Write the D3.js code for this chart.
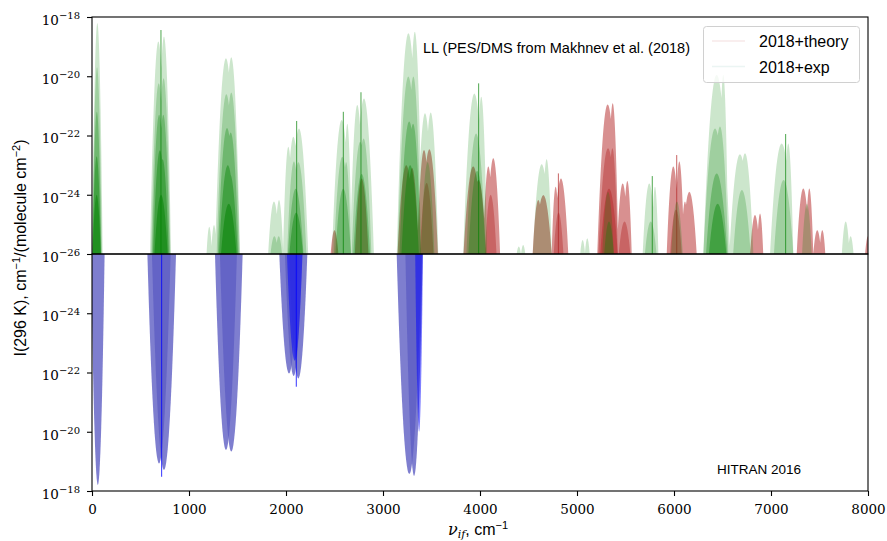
<!DOCTYPE html>
<html>
<head>
<meta charset="utf-8">
<script src="https://cdn.jsdelivr.net/npm/d3@7"></script>
<style>
  body { margin: 0; background: #fff; }
</style>
</head>
<body>
<script>
// ---- data ----
// lobes: [wavenumber centre, half width at 1e-26, log10 peak intensity, tier]
let xTicks = [0, 1000, 2000, 3000, 4000, 5000, 6000, 7000, 8000];
let topTickExps = [-18, -20, -22, -24, -26];
let bottomTickExps = [-24, -22, -20, -18];
let legendLabels = ["2018+theory", "2018+exp"];

let theoryLobes = [
  [2500, 40, -25.2, 0],
  [2780, 70, -23.45, 0],
  [3240, 90, -23.0, 0], [3300, 70, -23.1, 0],
  [3423, 72, -22.49, 0], [3478, 88, -22.46, 0],
  [3450, 70, -23.6, 1],
  [3930, 100, -23.05, 0], [3985, 80, -23.5, 0],
  [4086, 56, -23.05, 0], [4137, 70, -22.77, 0],
  [4110, 60, -24.0, 1],
  [4601, 58, -24.18, 0], [4653, 86, -24.01, 0],
  [4780, 41, -23.73, 0], [4835, 75, -23.45, 0],
  [4810, 50, -24.6, 1],
  [5316, 107, -20.95, 0], [5368, 58, -20.91, 0],
  [5320, 100, -22.43, 1], [5365, 55, -22.43, 1],
  [5330, 90, -23.8, 2],
  [5471, 62, -23.62, 0], [5519, 45, -23.54, 0],
  [5490, 60, -24.9, 1],
  [5993, 68, -23.05, 0], [6055, 50, -22.88, 0],
  [6113, 40, -24.23, 0], [6158, 76, -23.9, 0],
  [6020, 60, -24.5, 1],
  [6835, 50, -24.68, 0], [6887, 33, -24.63, 0],
  [7333, 68, -23.79, 0], [7395, 41, -23.79, 0],
  [7477, 41, -25.2, 0], [7529, 31, -25.2, 0],
  [8000, 30, -25.4, 0]
];

let expLobes = [
  [55, 55, -18.2, 0], [52, 50, -19.7, 1], [50, 46, -21.2, 2], [48, 44, -22.7, 3], [48, 42, -24.0, 4],
  [684, 86, -18.83, 0], [742, 72, -18.66, 0],
  [688, 78, -20.24, 1], [738, 70, -20.07, 1],
  [692, 72, -21.3, 2], [735, 66, -21.3, 2],
  [700, 70, -22.5, 3], [728, 62, -22.8, 3],
  [712, 68, -24.0, 4],
  [1381, 112, -19.39, 0], [1436, 90, -19.36, 0],
  [1385, 100, -20.61, 1], [1436, 86, -20.55, 1],
  [1392, 94, -21.75, 2], [1430, 82, -21.9, 2],
  [1400, 90, -23.0, 3], [1422, 80, -23.3, 3],
  [1410, 80, -24.3, 4],
  [1209, 28, -25.08, 0], [1258, 30, -25.02, 0],
  [1876, 60, -24.23, 0], [1928, 44, -24.18, 0],
  [1880, 40, -25.4, 1], [1925, 34, -25.4, 1],
  [2024, 55, -22.38, 0], [2076, 80, -22.04, 0], [2134, 95, -21.76, 0],
  [2082, 70, -22.88, 1], [2128, 82, -22.9, 1],
  [2100, 80, -23.8, 2], [2105, 70, -24.6, 3],
  [2574, 100, -21.48, 0], [2632, 45, -21.6, 0],
  [2580, 86, -22.72, 1], [2620, 50, -22.9, 1],
  [2590, 80, -23.8, 2],
  [2735, 75, -20.97, 0], [2804, 102, -20.75, 0],
  [2765, 88, -22.21, 1], [2800, 80, -22.1, 1],
  [2780, 86, -23.3, 2],
  [3262, 120, -18.55, 0], [3328, 75, -18.5, 0],
  [3261, 110, -20.01, 1], [3313, 80, -20.01, 1],
  [3270, 100, -21.53, 2], [3310, 80, -21.6, 2],
  [3280, 90, -23.0, 3],
  [3433, 86, -21.25, 0], [3492, 78, -21.22, 0],
  [3460, 70, -22.9, 1],
  [3942, 115, -20.58, 0], [4013, 60, -20.69, 0],
  [3960, 100, -21.93, 1],
  [3970, 90, -23.2, 2],
  [4400, 22, -25.75, 0], [4445, 22, -25.7, 0],
  [4636, 92, -22.97, 0], [4687, 52, -22.8, 0],
  [5058, 25, -25.53, 0], [5106, 25, -25.47, 0],
  [5320, 60, -23.9, 1], [5330, 50, -24.9, 2],
  [5745, 68, -23.62, 0], [5804, 35, -23.73, 0],
  [5760, 60, -24.9, 1],
  [6030, 60, -24.23, 1],
  [6440, 138, -19.95, 0], [6508, 52, -19.95, 0],
  [6423, 120, -21.76, 1], [6474, 86, -21.7, 1],
  [6440, 110, -23.28, 2], [6450, 90, -24.3, 3],
  [6680, 110, -22.63, 0], [6732, 86, -22.6, 0],
  [6700, 90, -23.84, 1],
  [7110, 120, -22.27, 0], [7178, 52, -22.27, 0],
  [7130, 100, -23.5, 1],
  [7370, 50, -24.3, 1],
  [7770, 40, -24.9, 0], [7821, 30, -25.4, 0]
];

// [centre, log10 peak]
let expSpikes = [[711, -18.44], [2110, -21.51], [2591, -21.2], [2773, -20.54], [3986, -20.24], [5776, -23.37], [7151, -21.95]];
let theorySpikes = [[4808, -23.28], [6028, -22.66]];

// HITRAN 2016, drawn downward
let hitranLobes = [
  [60, 70, -18.2],
  [691, 120, -18.93], [742, 124, -18.71],
  [1381, 113, -19.38], [1436, 117, -19.33],
  [2031, 100, -21.97], [2079, 90, -21.88], [2127, 93, -21.8],
  [3271, 130, -18.57], [3320, 89, -18.51]
];
let hitranDense = [[2090, 80, -22.4], [3372, 40, -20.0]];
let hitranSpikes = [[718, -18.48], [2106, -21.52]];

// ---- layout ----
let width = 887;
let height = 541;
let pLeft = 92, pRight = 868, pTop = 17, pMid = 254, pBottom = 491;

let svg = d3
  .select("body")
  .append("svg")
  .attr("width", width)
  .attr("height", height);

let x = d3.scaleLinear().domain([0, 8000]).range([pLeft, pRight]);
let yTop = d3.scaleLog().domain([1e-26, 1e-18]).range([pMid, pTop]);
let yBot = d3.scaleLog().domain([1e-26, 1e-18]).range([pMid, pBottom]);

let serif = "DejaVu Serif";
let sans = "Liberation Sans";

let defs = svg.append("defs");
defs.append("clipPath").attr("id", "clipTop")
  .append("rect").attr("x", pLeft).attr("y", pTop).attr("width", pRight - pLeft).attr("height", pMid - pTop);
defs.append("clipPath").attr("id", "clipBot")
  .append("rect").attr("x", pLeft).attr("y", pMid).attr("width", pRight - pLeft).attr("height", pBottom - pMid);

// parabolic arch (in log space) from base 1e-26 up to the peak
let lobePath = (d, y) => {
  let yb = y(1e-26);
  let yp = y(Math.pow(10, d[2]));
  let ctrl = 2 * yp - yb;
  return `M${x(d[0] - d[1])},${yb}Q${x(d[0])},${ctrl} ${x(d[0] + d[1])},${yb}Z`;
};

let drawTiers = (g, lobes, y, color, opacities) => {
  opacities.forEach((op, t) => {
    let sel = lobes.filter((d) => d[3] === t);
    if (!sel.length) return;
    g.append("path")
      .attr("d", sel.map((d) => lobePath(d, y)).join(""))
      .attr("fill", color)
      .attr("fill-opacity", op);
  });
};

let drawSpikes = (g, spikes, y, color, op) => {
  g.selectAll(null)
    .data(spikes)
    .enter()
    .append("line")
    .attr("x1", (d) => x(d[0]))
    .attr("x2", (d) => x(d[0]))
    .attr("y1", y(1e-26))
    .attr("y2", (d) => y(Math.pow(10, d[1])))
    .attr("stroke", color)
    .attr("stroke-opacity", op)
    .attr("stroke-width", 1);
};

// top panel: theory then exp
let gTop = svg.append("g").attr("clip-path", "url(#clipTop)");
drawTiers(gTop, theoryLobes, yTop, "#b22222", [0.5, 0.4, 0.45]);
drawSpikes(gTop, theorySpikes, yTop, "#b22222", 0.7);
drawTiers(gTop, expLobes, yTop, "#008000", [0.2, 0.22, 0.3, 0.4, 0.5]);
drawSpikes(gTop, expSpikes, yTop, "#008000", 0.7);

// bottom panel: HITRAN
let gBot = svg.append("g").attr("clip-path", "url(#clipBot)");
gBot.selectAll(null)
  .data(hitranLobes)
  .enter()
  .append("path")
  .attr("d", (d) => lobePath(d, yBot))
  .attr("fill", "#5e5ec3")
  .attr("fill-opacity", 0.8);
gBot.selectAll(null)
  .data(hitranDense)
  .enter()
  .append("path")
  .attr("d", (d) => lobePath(d, yBot))
  .attr("fill", "#0000ff")
  .attr("fill-opacity", 0.5);
drawSpikes(gBot, hitranSpikes, yBot, "#0000ff", 0.8);

// frames
[[pTop, pMid], [pMid, pBottom]].forEach(([a, b]) => {
  svg.append("rect")
    .attr("x", pLeft).attr("y", a)
    .attr("width", pRight - pLeft).attr("height", b - a)
    .attr("fill", "none")
    .attr("stroke", "#000")
    .attr("stroke-width", 1.1);
});

// y axes with 10^n labels
let powLabel = (sel) => {
  sel.selectAll(".tick text").each(function (d) {
    let exp = Math.round(Math.log10(d));
    let t = d3.select(this);
    t.text("").attr("y", 3);
    t.append("tspan").text("10");
    t.append("tspan").attr("dy", -6).attr("font-size", 10).text("\u2212" + Math.abs(exp));
  });
};

let styleAxis = (sel) => {
  sel.select(".domain").remove();
  sel.selectAll(".tick line").attr("stroke", "#000").attr("stroke-width", 1.1);
  sel.selectAll(".tick text")
    .attr("font-family", serif)
    .attr("font-size", 13.5)
    .attr("fill", "#000");
};

let axTop = svg.append("g")
  .attr("transform", `translate(${pLeft},0)`)
  .call(d3.axisLeft(yTop).tickValues(topTickExps.map((e) => Math.pow(10, e))).tickSize(5).tickPadding(7));
styleAxis(axTop);
powLabel(axTop);

let axBot = svg.append("g")
  .attr("transform", `translate(${pLeft},0)`)
  .call(d3.axisLeft(yBot).tickValues(bottomTickExps.map((e) => Math.pow(10, e))).tickSize(5).tickPadding(7));
styleAxis(axBot);
powLabel(axBot);

let axX = svg.append("g")
  .attr("transform", `translate(0,${pBottom})`)
  .call(d3.axisBottom(x).tickValues(xTicks).tickFormat(d3.format("d")).tickSize(5).tickPadding(8));
styleAxis(axX);

// axis labels
let yLab = svg.append("text")
  .attr("transform", "translate(26,248) rotate(-90)")
  .attr("text-anchor", "middle")
  .attr("font-family", sans)
  .attr("font-size", 16)
  .attr("fill", "#000");
yLab.append("tspan").text("I(296 K), cm");
yLab.append("tspan").attr("dy", -6).attr("font-size", 11).text("\u22121");
yLab.append("tspan").attr("dy", 6).text("/(molecule cm");
yLab.append("tspan").attr("dy", -6).attr("font-size", 11).text("\u22122");
yLab.append("tspan").attr("dy", 6).text(")");

let xLab = svg.append("text")
  .attr("x", 478)
  .attr("y", 535)
  .attr("text-anchor", "middle")
  .attr("font-size", 16)
  .attr("fill", "#000");
xLab.append("tspan").attr("font-family", serif).attr("font-style", "italic").text("\u03bd");
xLab.append("tspan").attr("font-family", serif).attr("font-style", "italic").attr("font-size", 11).attr("dy", 3).text("if");
xLab.append("tspan").attr("font-family", sans).attr("dy", -3).text(", cm");
xLab.append("tspan").attr("font-family", sans).attr("font-size", 11).attr("dy", -6).text("\u22121");

// annotations
svg.append("text")
  .attr("x", 423).attr("y", 53)
  .attr("font-family", sans).attr("font-size", 14.5)
  .attr("fill", "#000")
  .text("LL (PES/DMS from Makhnev et al. (2018)");

svg.append("text")
  .attr("x", 717).attr("y", 474)
  .attr("font-family", sans).attr("font-size", 13.5)
  .attr("fill", "#000")
  .text("HITRAN 2016");

// legend
let lg = svg.append("g");
lg.append("rect")
  .attr("x", 703.5).attr("y", 26.5)
  .attr("width", 156).attr("height", 56)
  .attr("rx", 3)
  .attr("fill", "#fff").attr("fill-opacity", 0.8)
  .attr("stroke", "#d0d0d0");
let legendColors = ["rgba(178,34,34,0.1)", "rgba(0,128,100,0.08)"];
legendLabels.forEach((lab, i) => {
  let yy = 41 + i * 25.5;
  lg.append("line")
    .attr("x1", 712).attr("x2", 745)
    .attr("y1", yy).attr("y2", yy)
    .attr("stroke", legendColors[i]).attr("stroke-width", 1.5);
  lg.append("text")
    .attr("x", 759).attr("y", yy + 6)
    .attr("font-family", sans).attr("font-size", 16)
    .attr("fill", "#000")
    .text(lab);
});
</script>
</body>
</html>
